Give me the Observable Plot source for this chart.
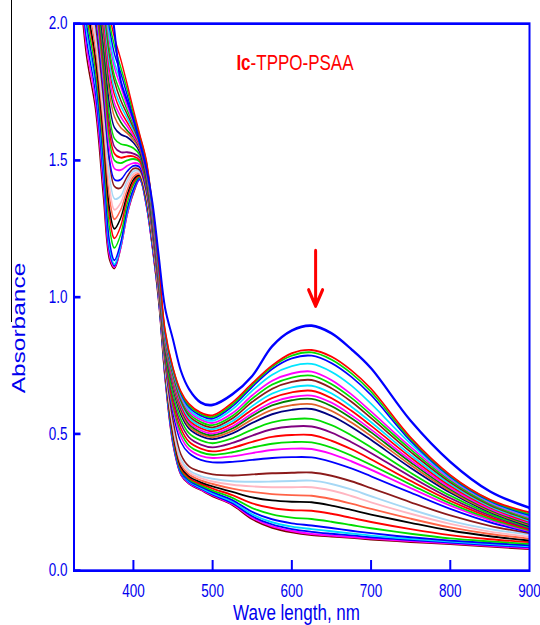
<!DOCTYPE html>
<html><head><meta charset="utf-8">
<script src="https://cdn.jsdelivr.net/npm/d3@7"></script>
<script src="https://cdn.jsdelivr.net/npm/@observablehq/plot@0.6"></script>
<style>
html,body{margin:0;padding:0;background:#fff;}
#wrap{position:relative;width:540px;height:625px;overflow:hidden;background:#fff;}
#edge{position:absolute;left:11px;top:0;width:1px;height:322px;background:#000;}
.axlabel{position:absolute;white-space:nowrap;font-family:Arial,'Liberation Sans',sans-serif;color:#0000ee;line-height:1;}
</style></head><body>
<div id="wrap"></div>
<script>
const wavelengths = [325, 340, 352, 362, 370, 376, 384, 392, 400, 408, 416, 424, 432, 440, 450, 460, 470, 485, 500, 525, 550, 575, 600, 625, 650, 675, 700, 750, 800, 850, 900];

const s01 = [2.45, 1.9, 1.69, 1.37, 1.135, 1.105, 1.18, 1.3, 1.38, 1.43, 1.34, 1.18, 0.98, 0.70, 0.46, 0.35, 0.318, 0.295, 0.272, 0.24, 0.188, 0.157, 0.14, 0.13, 0.125, 0.12, 0.114, 0.105, 0.097, 0.088, 0.079];
const s02 = [2.48, 1.93, 1.72, 1.41, 1.15, 1.11, 1.18, 1.3, 1.385, 1.43, 1.34, 1.18, 0.985, 0.705, 0.465, 0.352, 0.32, 0.297, 0.275, 0.243, 0.193, 0.162, 0.145, 0.134, 0.128, 0.123, 0.117, 0.108, 0.1, 0.091, 0.082];
const s03 = [2.51, 1.96, 1.75, 1.44, 1.165, 1.115, 1.19, 1.31, 1.39, 1.432, 1.345, 1.185, 0.99, 0.71, 0.47, 0.355, 0.323, 0.3, 0.278, 0.247, 0.199, 0.169, 0.152, 0.142, 0.135, 0.129, 0.122, 0.112, 0.103, 0.094, 0.086];
const s04 = [2.54, 1.99, 1.78, 1.47, 1.18, 1.12, 1.19, 1.31, 1.392, 1.435, 1.35, 1.19, 0.99, 0.715, 0.475, 0.358, 0.326, 0.303, 0.282, 0.252, 0.206, 0.177, 0.161, 0.152, 0.144, 0.136, 0.128, 0.116, 0.106, 0.097, 0.089];
const s05 = [2.57, 2.02, 1.8, 1.5, 1.2, 1.135, 1.2, 1.32, 1.395, 1.437, 1.355, 1.195, 0.995, 0.72, 0.48, 0.362, 0.33, 0.307, 0.287, 0.258, 0.215, 0.188, 0.173, 0.165, 0.156, 0.146, 0.137, 0.122, 0.11, 0.101, 0.093];
const s06 = [2.6, 2.05, 1.83, 1.54, 1.25, 1.18, 1.23, 1.34, 1.41, 1.44, 1.36, 1.2, 1.0, 0.725, 0.487, 0.367, 0.334, 0.312, 0.293, 0.266, 0.229, 0.206, 0.194, 0.189, 0.179, 0.167, 0.155, 0.135, 0.118, 0.107, 0.098];
const s07 = [2.63, 2.08, 1.86, 1.57, 1.29, 1.215, 1.26, 1.36, 1.42, 1.443, 1.365, 1.205, 1.0, 0.73, 0.495, 0.373, 0.339, 0.317, 0.3, 0.276, 0.246, 0.229, 0.221, 0.219, 0.208, 0.193, 0.178, 0.152, 0.13, 0.115, 0.104];
const s08 = [2.65, 2.1, 1.88, 1.6, 1.32, 1.25, 1.29, 1.375, 1.43, 1.446, 1.37, 1.21, 1.005, 0.735, 0.505, 0.38, 0.345, 0.323, 0.308, 0.288, 0.268, 0.257, 0.252, 0.25, 0.238, 0.222, 0.205, 0.175, 0.147, 0.126, 0.11];
const s09 = [2.68, 2.13, 1.91, 1.63, 1.36, 1.285, 1.32, 1.39, 1.44, 1.45, 1.375, 1.215, 1.01, 0.74, 0.515, 0.388, 0.352, 0.33, 0.317, 0.3, 0.288, 0.28, 0.276, 0.274, 0.262, 0.245, 0.226, 0.19, 0.158, 0.134, 0.117];
const s10 = [2.71, 2.16, 1.94, 1.66, 1.4, 1.32, 1.345, 1.41, 1.45, 1.455, 1.38, 1.22, 1.01, 0.745, 0.525, 0.397, 0.36, 0.338, 0.326, 0.314, 0.308, 0.305, 0.305, 0.305, 0.293, 0.273, 0.25, 0.208, 0.171, 0.143, 0.124];
const s11 = [2.74, 2.19, 1.97, 1.7, 1.44, 1.36, 1.37, 1.425, 1.46, 1.46, 1.385, 1.225, 1.015, 0.75, 0.535, 0.407, 0.368, 0.346, 0.336, 0.327, 0.325, 0.326, 0.328, 0.329, 0.317, 0.297, 0.272, 0.224, 0.182, 0.152, 0.132];
const s12 = [2.77, 2.22, 2.0, 1.73, 1.49, 1.405, 1.4, 1.44, 1.47, 1.465, 1.39, 1.23, 1.02, 0.76, 0.55, 0.425, 0.382, 0.362, 0.352, 0.348, 0.352, 0.356, 0.358, 0.359, 0.347, 0.327, 0.302, 0.25, 0.202, 0.164, 0.137];
const s13 = [2.8, 2.25, 2.03, 1.76, 1.5, 1.43, 1.43, 1.46, 1.48, 1.475, 1.4, 1.24, 1.03, 0.77, 0.575, 0.47, 0.43, 0.405, 0.396, 0.398, 0.405, 0.412, 0.415, 0.414, 0.398, 0.374, 0.345, 0.285, 0.226, 0.177, 0.141];
const s14 = [2.82, 2.28, 2.06, 1.79, 1.54, 1.47, 1.465, 1.48, 1.49, 1.485, 1.41, 1.245, 1.035, 0.775, 0.59, 0.49, 0.445, 0.42, 0.412, 0.418, 0.43, 0.441, 0.446, 0.445, 0.427, 0.4, 0.369, 0.302, 0.238, 0.185, 0.144];
const s15 = [2.84, 2.3, 2.08, 1.82, 1.57, 1.5, 1.49, 1.5, 1.505, 1.495, 1.415, 1.25, 1.04, 0.78, 0.6, 0.505, 0.458, 0.433, 0.424, 0.433, 0.45, 0.464, 0.47, 0.469, 0.45, 0.421, 0.387, 0.315, 0.246, 0.19, 0.147];
const s16 = [2.86, 2.32, 2.1, 1.85, 1.6, 1.525, 1.51, 1.515, 1.515, 1.5, 1.42, 1.255, 1.045, 0.785, 0.615, 0.52, 0.472, 0.446, 0.436, 0.449, 0.471, 0.489, 0.496, 0.496, 0.475, 0.444, 0.407, 0.328, 0.255, 0.196, 0.15];
const s17 = [2.88, 2.34, 2.12, 1.87, 1.63, 1.55, 1.53, 1.53, 1.525, 1.51, 1.425, 1.26, 1.05, 0.79, 0.63, 0.537, 0.488, 0.461, 0.451, 0.467, 0.494, 0.517, 0.527, 0.527, 0.505, 0.47, 0.43, 0.344, 0.265, 0.202, 0.154];
const s18 = [2.9, 2.36, 2.14, 1.9, 1.66, 1.58, 1.56, 1.555, 1.545, 1.52, 1.43, 1.265, 1.055, 0.8, 0.645, 0.553, 0.503, 0.476, 0.466, 0.484, 0.516, 0.542, 0.554, 0.555, 0.532, 0.495, 0.451, 0.358, 0.274, 0.208, 0.158];
const s19 = [2.92, 2.38, 2.16, 1.93, 1.7, 1.62, 1.595, 1.585, 1.565, 1.53, 1.44, 1.27, 1.06, 0.81, 0.665, 0.57, 0.52, 0.492, 0.481, 0.502, 0.54, 0.572, 0.588, 0.591, 0.566, 0.526, 0.478, 0.376, 0.285, 0.214, 0.162];
const s20 = [2.94, 2.4, 2.18, 1.96, 1.74, 1.66, 1.62, 1.6, 1.575, 1.54, 1.45, 1.28, 1.065, 0.82, 0.675, 0.58, 0.528, 0.499, 0.488, 0.511, 0.553, 0.588, 0.605, 0.609, 0.584, 0.542, 0.492, 0.386, 0.291, 0.218, 0.166];
const s21 = [2.96, 2.42, 2.2, 1.99, 1.77, 1.69, 1.64, 1.61, 1.585, 1.545, 1.455, 1.285, 1.07, 0.825, 0.685, 0.59, 0.536, 0.506, 0.495, 0.52, 0.566, 0.604, 0.623, 0.628, 0.602, 0.558, 0.506, 0.396, 0.297, 0.222, 0.17];
const s22 = [2.98, 2.44, 2.22, 2.01, 1.8, 1.71, 1.66, 1.625, 1.59, 1.55, 1.46, 1.29, 1.075, 0.83, 0.692, 0.597, 0.543, 0.513, 0.502, 0.528, 0.575, 0.615, 0.635, 0.64, 0.614, 0.569, 0.516, 0.404, 0.303, 0.226, 0.174];
const s23 = [3.0, 2.46, 2.24, 2.03, 1.83, 1.74, 1.68, 1.64, 1.6, 1.555, 1.465, 1.295, 1.08, 0.835, 0.7, 0.605, 0.551, 0.521, 0.51, 0.538, 0.589, 0.631, 0.652, 0.658, 0.631, 0.585, 0.53, 0.414, 0.31, 0.231, 0.178];
const s24 = [3.02, 2.48, 2.26, 2.05, 1.85, 1.76, 1.7, 1.655, 1.61, 1.56, 1.47, 1.3, 1.085, 0.84, 0.707, 0.613, 0.559, 0.528, 0.517, 0.547, 0.602, 0.647, 0.67, 0.676, 0.648, 0.6, 0.543, 0.423, 0.316, 0.235, 0.182];
const s25 = [3.04, 2.5, 2.28, 2.07, 1.88, 1.79, 1.72, 1.67, 1.62, 1.565, 1.475, 1.305, 1.09, 0.845, 0.715, 0.621, 0.567, 0.536, 0.524, 0.557, 0.617, 0.665, 0.69, 0.697, 0.667, 0.618, 0.558, 0.434, 0.323, 0.24, 0.186];
const s26 = [3.06, 2.52, 2.3, 2.09, 1.9, 1.81, 1.745, 1.685, 1.63, 1.57, 1.48, 1.31, 1.095, 0.85, 0.722, 0.629, 0.575, 0.544, 0.532, 0.566, 0.629, 0.68, 0.706, 0.713, 0.682, 0.632, 0.57, 0.443, 0.329, 0.244, 0.19];
const s27 = [3.08, 2.54, 2.32, 2.11, 1.93, 1.84, 1.77, 1.7, 1.64, 1.575, 1.485, 1.315, 1.1, 0.855, 0.728, 0.636, 0.583, 0.552, 0.54, 0.576, 0.641, 0.694, 0.721, 0.728, 0.697, 0.645, 0.582, 0.452, 0.335, 0.249, 0.195];
const s28 = [3.1, 2.56, 2.34, 2.13, 1.95, 1.86, 1.79, 1.72, 1.65, 1.58, 1.49, 1.32, 1.105, 0.862, 0.732, 0.642, 0.59, 0.559, 0.548, 0.59, 0.658, 0.716, 0.748, 0.756, 0.727, 0.677, 0.61, 0.464, 0.34, 0.252, 0.199];
const s29 = [3.12, 2.58, 2.36, 2.15, 1.98, 1.89, 1.82, 1.74, 1.66, 1.585, 1.495, 1.325, 1.11, 0.868, 0.735, 0.647, 0.598, 0.567, 0.556, 0.601, 0.672, 0.737, 0.776, 0.786, 0.759, 0.709, 0.642, 0.474, 0.344, 0.255, 0.203];
const s30 = [3.14, 2.6, 2.38, 2.17, 2.0, 1.92, 1.84, 1.76, 1.67, 1.59, 1.5, 1.33, 1.115, 0.874, 0.738, 0.651, 0.604, 0.573, 0.562, 0.608, 0.679, 0.745, 0.786, 0.798, 0.772, 0.722, 0.654, 0.481, 0.347, 0.258, 0.207];
const s31 = [3.16, 2.62, 2.4, 2.2, 2.03, 1.95, 1.87, 1.78, 1.685, 1.595, 1.505, 1.335, 1.12, 0.88, 0.742, 0.655, 0.61, 0.578, 0.568, 0.615, 0.685, 0.75, 0.795, 0.807, 0.783, 0.733, 0.665, 0.487, 0.35, 0.26, 0.213];
const s32 = [3.3, 2.75, 2.55, 2.35, 2.14, 1.975, 1.79, 1.718, 1.65, 1.565, 1.475, 1.345, 1.15, 0.96, 0.845, 0.73, 0.665, 0.615, 0.606, 0.645, 0.712, 0.82, 0.878, 0.896, 0.868, 0.81, 0.74, 0.548, 0.398, 0.29, 0.23];

const seriesList = [s01, s02, s03, s04, s05, s06, s07, s08, s09, s10, s11, s12, s13, s14, s15, s16,
                    s17, s18, s19, s20, s21, s22, s23, s24, s25, s26, s27, s28, s29, s30, s31, s32];
const seriesColors = ["#800000", "#ff00ff", "#0000ff", "#00d8ff", "#0000ff", "#00dd00", "#ff0000", "#000000",
                      "#ff6347", "#ffb6c1", "#a6d8f5", "#8b1a1a", "#0000ff", "#ff00ff", "#00dd00", "#ff0000",
                      "#800080", "#00dd00", "#000080", "#e0602a", "#008000", "#ff00ff", "#ff0000", "#00e5ff",
                      "#8b1a1a", "#00dd00", "#ff00ff", "#00e5ff", "#0000ff", "#00dd00", "#ff0000", "#0000ff"];

const xTickLabels = [400, 500, 600, 700, 800, 900];
const xTickMarks = [400, 500, 600, 700, 800];
const yTickValues = [0, 0.5, 1.0, 1.5, 2.0];
const xLabel = "Wave length, nm";
const yLabel = "Absorbance";
const titleBold = "Ic";
const titleRest = "-TPPO-PSAA";
const titleAt = [{wl: 530, a: 1.857}];
const arrowAt = [{wl: 630, from: 1.17, to: 0.968}];

// layout (the reference is vertically stretched, so draw compressed then stretch)
const W = 540, H = 625, S = 1.33, H0 = H / S;
const mt = 23 / S, mb = 55 / S, ml = 73.5, mr = 11;
const plotH = H0 - mt - mb, plotW = W - ml - mr;
const blue = "#0000ff", textBlue = "#0000ee";

const lineMarks = seriesList.map((vals, i) =>
  Plot.line(wavelengths.map((w, j) => ({wl: w, a: vals[j]})), {
    x: "wl", y: "a", stroke: seriesColors[i],
    strokeWidth: i === seriesList.length - 1 ? 2 : 1.4,
    curve: "catmull-rom", clip: true
  }));

const chart = Plot.plot({
  width: W, height: H0,
  marginTop: mt, marginBottom: mb, marginLeft: ml, marginRight: mr,
  style: {fontFamily: "Arial, 'Liberation Sans', sans-serif", fontSize: "13.5px", color: textBlue, background: "white"},
  x: {domain: [325, 900], ticks: xTickLabels, tickSize: 0, tickPadding: 10.5, label: null, tickFormat: d => String(d)},
  y: {domain: [0, 2], ticks: yTickValues, tickSize: 0, tickPadding: 6.5, label: null, tickFormat: d3.format(".1f")},
  marks: [
    ...lineMarks,
    Plot.frame({stroke: blue, strokeWidth: 2}),
    Plot.tickX(xTickMarks, {x: d => d, stroke: blue, strokeWidth: 2, insetTop: plotH - 7.5}),
    Plot.tickY(yTickValues, {y: d => d, stroke: blue, strokeWidth: 2, insetRight: plotW - 7}),
    Plot.arrow(arrowAt, {x1: "wl", x2: "wl", y1: "from", y2: "to", stroke: "#ff0000", strokeWidth: 3, headLength: 7}),
    Plot.text(titleAt, {x: "wl", y: "a", text: () => titleBold, fill: "#ff0000", fontWeight: "bold", fontSize: 17, textAnchor: "start"}),
    Plot.text(titleAt, {x: "wl", y: "a", text: () => titleRest, fill: "#ff0000", fontSize: 17, textAnchor: "start", dx: 14.2})
  ]
});

chart.setAttribute("height", H);
chart.setAttribute("preserveAspectRatio", "none");
chart.style.width = W + "px";
chart.style.height = H + "px";
chart.style.maxWidth = "none";
chart.style.display = "block";
const wrap = document.getElementById("wrap");
wrap.appendChild(chart);

const xl = document.createElement("div");
xl.className = "axlabel";
xl.textContent = xLabel;
xl.style.fontSize = "17px";
xl.style.left = "296.5px";
xl.style.top = "613px";
xl.style.transform = "translate(-50%, -50%) scale(1, 1.3)";
wrap.appendChild(xl);

const yl = document.createElement("div");
yl.className = "axlabel";
yl.textContent = yLabel;
yl.style.fontSize = "18px";
yl.style.left = "18.8px";
yl.style.top = "327.5px";
yl.style.transform = "translate(-50%, -50%) rotate(-90deg) scale(1.36, 1)";
wrap.appendChild(yl);

const edge = document.createElement("div");
edge.id = "edge";
wrap.appendChild(edge);
</script>
</body></html>
